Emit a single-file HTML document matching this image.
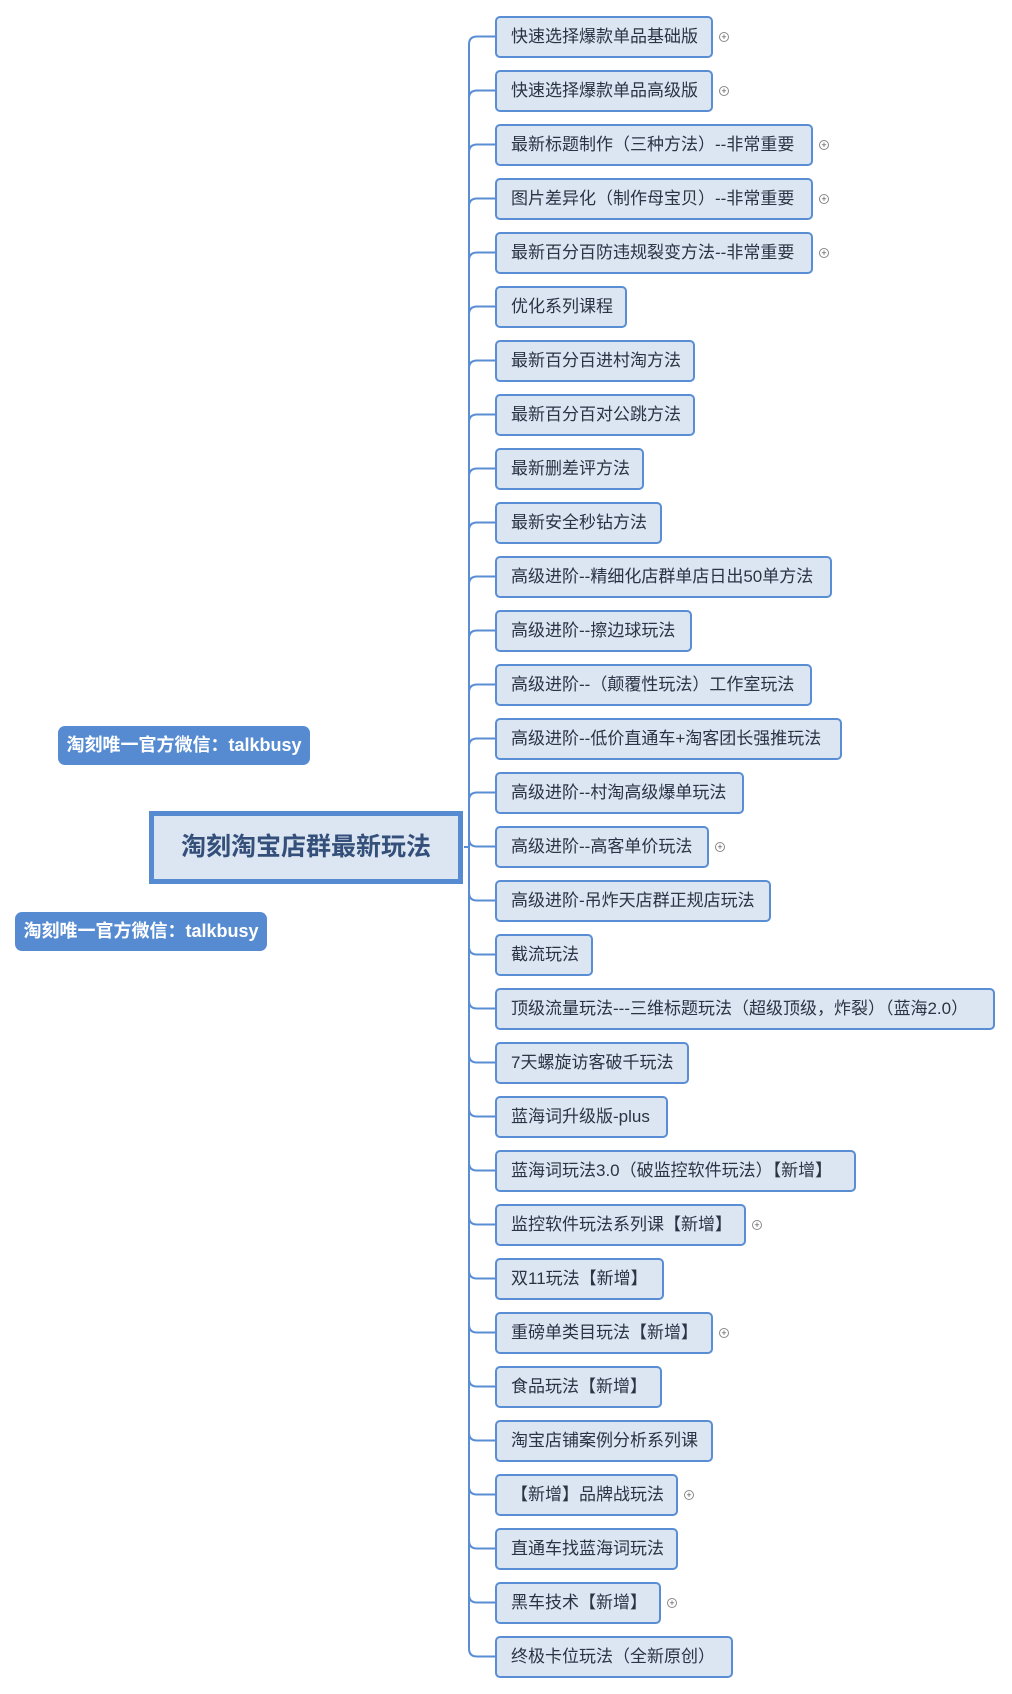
<!DOCTYPE html>
<html><head><meta charset="utf-8"><style>
body{margin:0;width:1012px;height:1694px;background:#fff;position:relative;overflow:hidden;font-family:"Liberation Sans","Noto Sans CJK SC",sans-serif}
.n{position:absolute;left:495px;height:38px;border:2px solid #5a8ed4;border-radius:5px;background:#dce6f2;color:#2b3344;font-size:17px;line-height:38px;padding-left:14px;box-sizing:content-box;white-space:nowrap}
.p{position:absolute;width:8px;height:8px;border:1px solid #888;border-radius:50%;font-size:9px;line-height:8px;text-align:center;color:#555}
.lb{position:absolute;height:39px;background:#568bd2;border-radius:7px;color:#fff;font-weight:bold;font-size:18px;line-height:39px;text-align:center}
</style></head><body>
<svg width="1012" height="1694" style="position:absolute;left:0;top:0" id="s"></svg>
<div class="lb" style="left:58px;top:726px;width:252px">淘刻唯一官方微信：talkbusy</div>
<div class="lb" style="left:15px;top:912px;width:252px">淘刻唯一官方微信：talkbusy</div>
<div style="position:absolute;left:149px;top:811px;width:304px;height:63px;border:5px solid #568bd2;background:#dce6f2;color:#34507a;font-weight:bold;font-size:25px;line-height:63px;text-align:center">淘刻淘宝店群最新玩法</div>
<div id="c"></div>
<script>
var items=[["快速选择爆款单品基础版",221,1],["快速选择爆款单品高级版",221,1],["最新标题制作（三种方法）--非常重要",321,1],["图片差异化（制作母宝贝）--非常重要",321,1],["最新百分百防违规裂变方法--非常重要",321,1],["优化系列课程",135,0],["最新百分百进村淘方法",203,0],["最新百分百对公跳方法",203,0],["最新删差评方法",152,0],["最新安全秒钻方法",170,0],["高级进阶--精细化店群单店日出50单方法",340,0],["高级进阶--擦边球玩法",200,0],["高级进阶--（颠覆性玩法）工作室玩法",320,0],["高级进阶--低价直通车+淘客团长强推玩法",350,0],["高级进阶--村淘高级爆单玩法",252,0],["高级进阶--高客单价玩法",217,1],["高级进阶-吊炸天店群正规店玩法",279,0],["截流玩法",101,0],["顶级流量玩法---三维标题玩法（超级顶级，炸裂）（蓝海2.0）",503,0],["7天螺旋访客破千玩法",197,0],["蓝海词升级版-plus",176,0],["蓝海词玩法3.0（破监控软件玩法）【新增】",364,0],["监控软件玩法系列课【新增】",254,1],["双11玩法【新增】",172,0],["重磅单类目玩法【新增】",221,1],["食品玩法【新增】",170,0],["淘宝店铺案例分析系列课",221,0],["【新增】品牌战玩法",186,1],["直通车找蓝海词玩法",186,0],["黑车技术【新增】",169,1],["终极卡位玩法（全新原创）",241,0]];
var h="",s="",X=469;
var c0=15.5+21,cl=15.5+54*30+21;
s+='<path d="M'+X+' '+(c0+8)+'L'+X+' '+(cl-8)+'" stroke="#5a8ed4" stroke-width="2" fill="none"/>';
s+='<path d="M464 847L'+X+' 847" stroke="#5a8ed4" stroke-width="2"/>';
items.forEach(function(it,i){var t=15.5+54*i,c=t+21,w=it[1]-3;
h+='<div class="n" style="top:'+t+'px;width:'+(w-18)+'px">'+it[0]+'</div>';
if(it[2])h+='<div class="p" style="left:'+(495+w+6)+'px;top:'+(c-5)+'px">+</div>';
var d=i<15?8:-8;
s+='<path d="M'+X+' '+(c+d)+'Q'+X+' '+c+' '+(X+8)+' '+c+'L495 '+c+'" stroke="#5a8ed4" stroke-width="2" fill="none"/>';});
document.getElementById("c").innerHTML=h;document.getElementById("s").innerHTML=s;
</script>
</body></html>
